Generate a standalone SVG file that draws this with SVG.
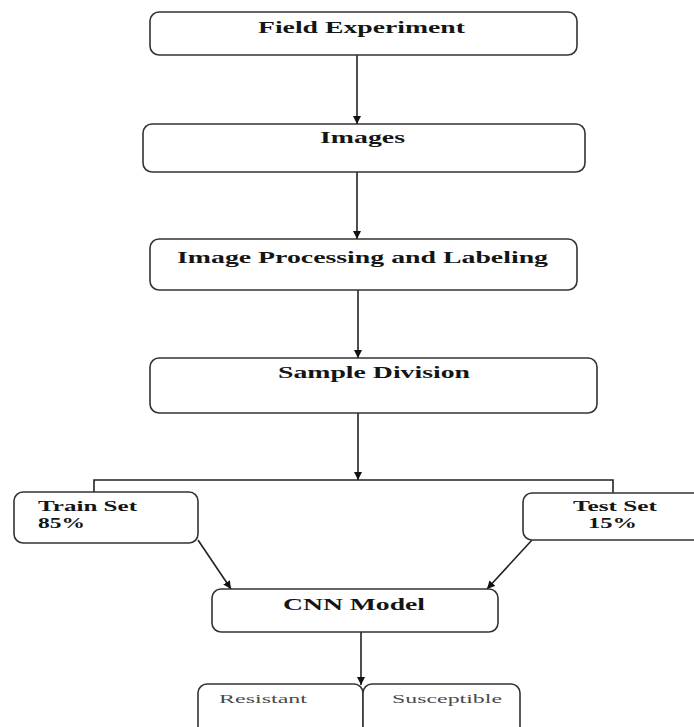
<svg xmlns="http://www.w3.org/2000/svg" width="694" height="727" viewBox="0 0 694 727">
<defs>
<style>
.box{fill:#fff;stroke:#333;stroke-width:1.6}
.lbl{font-family:"Liberation Serif","Times New Roman",serif;font-weight:bold;font-size:16px;fill:#151515}
.two{font-size:14.5px}
.sm{font-family:"Liberation Serif","Times New Roman",serif;font-size:12.5px;fill:#4a4a4a}
.ln{fill:none;stroke:#222;stroke-width:1.6}
</style>
<marker id="ah" viewBox="0 0 10 10" refX="10" refY="5" markerWidth="8" markerHeight="8" markerUnits="userSpaceOnUse" orient="auto">
<path d="M0,0 L10,5 L0,10 z" fill="#111"/>
</marker>
</defs>
<rect width="694" height="727" fill="#fff"/>
<g id="connectors">
<line class="ln" x1="357" y1="55" x2="357" y2="124" marker-end="url(#ah)"/>
<line class="ln" x1="357" y1="172" x2="357" y2="239" marker-end="url(#ah)"/>
<line class="ln" x1="358" y1="290" x2="358" y2="358" marker-end="url(#ah)"/>
<line class="ln" x1="358" y1="413" x2="358" y2="480" marker-end="url(#ah)"/>
<polyline class="ln" points="94,492 94,480 613,480 613,493"/>
<line class="ln" x1="198" y1="540" x2="231" y2="589" marker-end="url(#ah)"/>
<line class="ln" x1="532" y1="540" x2="487" y2="589" marker-end="url(#ah)"/>
<line class="ln" x1="361" y1="632" x2="361" y2="685" marker-end="url(#ah)"/>
</g>
<g id="field">
<rect class="box" x="150" y="12" width="427" height="43" rx="9"/>
<text class="lbl" x="258" y="33" textLength="207" lengthAdjust="spacingAndGlyphs">Field Experiment</text>
</g>
<g id="images">
<rect class="box" x="143" y="124" width="442" height="48" rx="9"/>
<text class="lbl" x="320" y="143" textLength="85" lengthAdjust="spacingAndGlyphs">Images</text>
</g>
<g id="processing">
<rect class="box" x="150" y="239" width="427" height="51" rx="9"/>
<text class="lbl" x="177" y="263" textLength="371" lengthAdjust="spacingAndGlyphs">Image Processing and Labeling</text>
</g>
<g id="division">
<rect class="box" x="150" y="358" width="447" height="55" rx="9"/>
<text class="lbl" x="278" y="378" textLength="192" lengthAdjust="spacingAndGlyphs">Sample Division</text>
</g>
<g id="train">
<rect class="box" x="14" y="492" width="184" height="51" rx="9"/>
<text class="lbl two" x="38" y="511" textLength="99" lengthAdjust="spacingAndGlyphs">Train Set</text>
<text class="lbl two" x="38" y="528" textLength="47" lengthAdjust="spacingAndGlyphs">85%</text>
</g>
<g id="test">
<rect class="box" x="523" y="493" width="190" height="47" rx="9"/>
<text class="lbl two" x="573" y="511" textLength="84" lengthAdjust="spacingAndGlyphs">Test Set</text>
<text class="lbl two" x="588" y="528" textLength="49" lengthAdjust="spacingAndGlyphs">15%</text>
</g>
<g id="cnn">
<rect class="box" x="212" y="589" width="286" height="43" rx="9"/>
<text class="lbl" x="283" y="610" textLength="142" lengthAdjust="spacingAndGlyphs">CNN Model</text>
</g>
<g id="resistant">
<rect class="box" x="198" y="684" width="165" height="60" rx="9"/>
<text class="sm" x="219" y="703" textLength="88" lengthAdjust="spacingAndGlyphs">Resistant</text>
</g>
<g id="susceptible">
<rect class="box" x="363" y="684" width="157" height="60" rx="9"/>
<text class="sm" x="392" y="703" textLength="110" lengthAdjust="spacingAndGlyphs">Susceptible</text>
</g>
</svg>
